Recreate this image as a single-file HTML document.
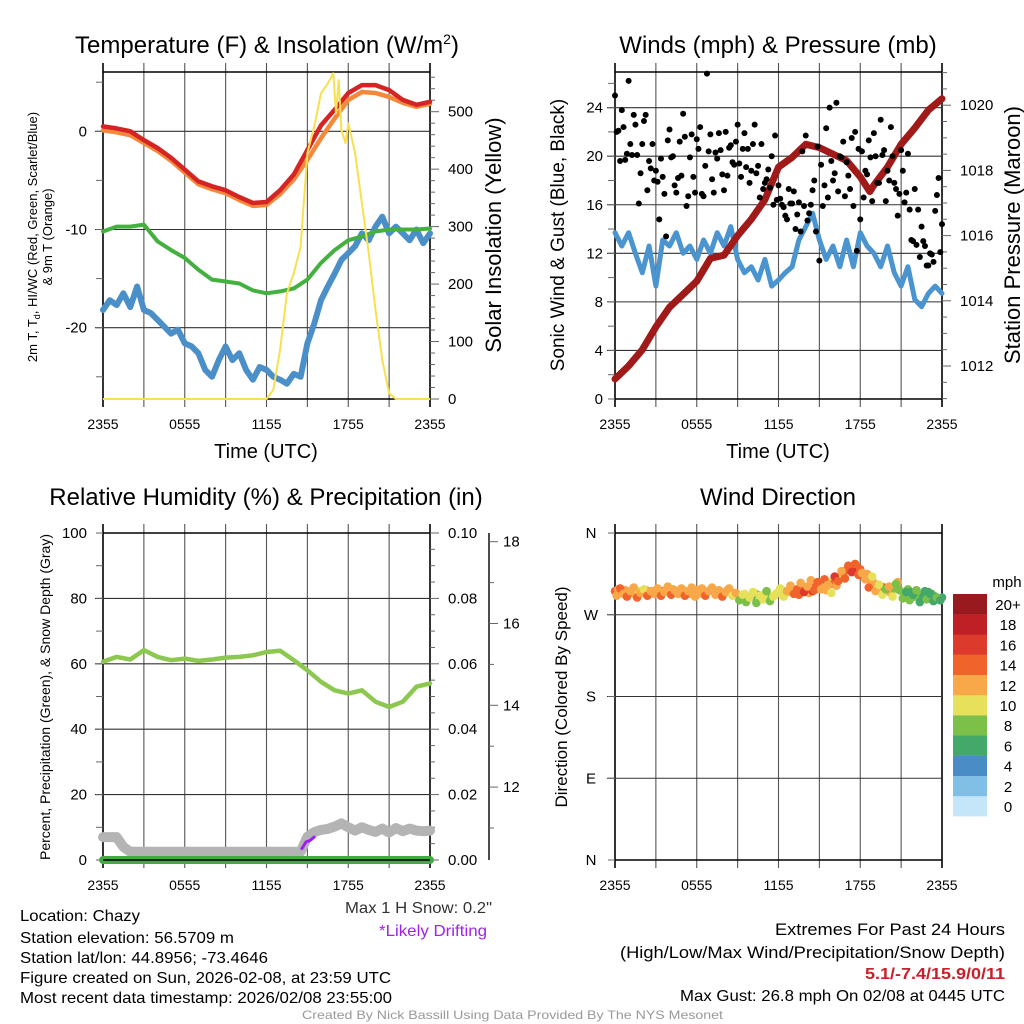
<!DOCTYPE html>
<html><head><meta charset="utf-8"><style>
html,body{margin:0;padding:0;background:#fff}
svg{display:block;font-family:"Liberation Sans",sans-serif}
</style></head><body>
<svg id="chart" width="1024" height="1024" viewBox="0 0 1024 1024" xmlns="http://www.w3.org/2000/svg">
<rect x="0" y="0" width="1024" height="1024" fill="#fff"/>
<text x="267" y="53" font-size="24" text-anchor="middle">Temperature (F) &amp; Insolation (W/m<tspan dy="-9" font-size="14">2</tspan><tspan dy="9">)</tspan></text>
<text x="778" y="53" font-size="24" text-anchor="middle">Winds (mph) &amp; Pressure (mb)</text>
<text x="266" y="505" font-size="24" text-anchor="middle">Relative Humidity (%) &amp; Precipitation (in)</text>
<text x="778" y="505" font-size="24" text-anchor="middle">Wind Direction</text>
<text x="266" y="458" font-size="20" text-anchor="middle">Time (UTC)</text>
<text x="778" y="458" font-size="20" text-anchor="middle">Time (UTC)</text>
<text transform="translate(37,237) rotate(-90)" font-size="13" text-anchor="middle">2m T, T<tspan dy="3" font-size="9">d</tspan><tspan dy="-3">, HI/WC (Red, Green, Scarlet/Blue)</tspan></text>
<text transform="translate(52,237) rotate(-90)" font-size="13" text-anchor="middle">&amp; 9m T (Orange)</text>
<text transform="translate(501,235) rotate(-90)" font-size="22" text-anchor="middle">Solar Insolation (Yellow)</text>
<text transform="translate(564,235) rotate(-90)" font-size="19" text-anchor="middle">Sonic Wind &amp; Gust (Blue, Black)</text>
<text transform="translate(1020,235) rotate(-90)" font-size="22" text-anchor="middle">Station Pressure (Maroon)</text>
<text transform="translate(50,697) rotate(-90)" font-size="14" text-anchor="middle">Percent, Precipitation (Green), &amp; Snow Depth (Gray)</text>
<text transform="translate(567,697) rotate(-90)" font-size="17" text-anchor="middle">Direction (Colored By Speed)</text>
<text x="1007" y="587" font-size="15" text-anchor="middle">mph</text>
<g font-size="16">
<text x="20" y="921" textLength="120" lengthAdjust="spacingAndGlyphs">Location: Chazy</text>
<text x="20" y="943" textLength="214" lengthAdjust="spacingAndGlyphs">Station elevation: 56.5709 m</text>
<text x="20" y="963" textLength="248" lengthAdjust="spacingAndGlyphs">Station lat/lon: 44.8956; -73.4646</text>
<text x="20" y="983" textLength="371" lengthAdjust="spacingAndGlyphs">Figure created on Sun, 2026-02-08, at 23:59 UTC</text>
<text x="20" y="1003" textLength="372" lengthAdjust="spacingAndGlyphs">Most recent data timestamp: 2026/02/08 23:55:00</text>
</g>
<text x="345" y="913" font-size="16" fill="#333" textLength="147" lengthAdjust="spacingAndGlyphs">Max 1 H Snow: 0.2"</text>
<text x="379" y="936" font-size="16" fill="#a020f0" textLength="108" lengthAdjust="spacingAndGlyphs">*Likely Drifting</text>
<text x="775" y="935" font-size="17" textLength="230" lengthAdjust="spacingAndGlyphs">Extremes For Past 24 Hours</text>
<text x="620" y="958" font-size="17" textLength="385" lengthAdjust="spacingAndGlyphs">(High/Low/Max Wind/Precipitation/Snow Depth)</text>
<text x="865" y="979" font-size="16" font-weight="bold" fill="#c8202a" textLength="140" lengthAdjust="spacingAndGlyphs">5.1/-7.4/15.9/0/11</text>
<text x="680" y="1001" font-size="16" textLength="325" lengthAdjust="spacingAndGlyphs">Max Gust: 26.8 mph On 02/08 at 0445 UTC</text>
<text x="302" y="1019" font-size="12" fill="#999" textLength="421" lengthAdjust="spacingAndGlyphs">Created By Nick Bassill Using Data Provided By The NYS Mesonet</text>
</svg>
<script>
// ---------- DATA ----------
const xTickLabels = ["2355","0555","1155","1755","2355"];
const hours = [0,1,2,3,4,5,6,7,8,9,10,11,12,13,14,15,16,17,18,19,20,21,22,23,24];
const tempRed = [0.5,0.3,0,-0.9,-1.7,-2.7,-3.9,-5.1,-5.6,-6,-6.7,-7.3,-7.2,-6,-4.4,-1.9,0.6,2.2,3.9,4.7,4.7,4.2,3.2,2.7,3];
const temp9m = [0.1,-0.1,-0.4,-1.2,-2.0,-3.0,-4.2,-5.4,-5.9,-6.3,-7.0,-7.6,-7.5,-6.4,-4.9,-2.9,-0.7,1.3,3.2,4.0,3.9,3.5,2.9,2.5,2.8];
const dewGreen = [-10.2,-9.7,-9.7,-9.5,-11.2,-12.1,-12.9,-14.1,-15.1,-15.3,-15.5,-16.2,-16.5,-16.3,-16,-15.1,-13.4,-12.1,-11.1,-10.7,-10.2,-10,-10,-10,-9.9];
const halfHours = [0,0.5,1,1.5,2,2.5,3,3.5,4,4.5,5,5.5,6,6.5,7,7.5,8,8.5,9,9.5,10,10.5,11,11.5,12,12.5,13,13.5,14,14.5,15,15.5,16,16.5,17,17.5,18,18.5,19,19.5,20,20.5,21,21.5,22,22.5,23,23.5,24];
const windChill = [-18.2,-17.2,-17.7,-16.5,-17.9,-15.8,-18.2,-18.5,-19.2,-19.9,-20.6,-20.2,-21.6,-21.9,-22.6,-24.3,-25,-23.3,-21.9,-23.3,-22.6,-24.3,-25.3,-24,-24.3,-25,-25.3,-25.7,-24.7,-25,-21.6,-19.6,-17.2,-15.8,-14.5,-13.1,-12.4,-11.7,-10.4,-11.1,-9.7,-8.7,-10.4,-9.7,-10.4,-11.1,-10,-11.4,-10.4];
const insolT = [0,12,12.5,13,13.5,14,14.5,15,15.5,16,16.5,16.9,17.1,17.3,17.5,17.8,18,18.5,19,19.5,20,20.5,21,21.5,24];
const insolV = [0,0,16,86,184,219,265,428,474,532,549,567,497,555,468,445,480,428,341,254,155,68,10,0,0];
const windSpeed = [13.7,12.6,13.7,12,10.4,12.6,9.3,13.1,12.6,13.7,12,12.6,11.5,13.1,12,13.7,12.6,14.2,11.5,10.4,10.9,9.8,11.5,9.3,9.8,10.4,10.9,13.1,14.2,15.3,13.1,11.5,12.6,10.9,13.1,10.9,13.7,12.6,12,10.9,12.6,10.4,9.3,10.9,8.2,7.6,8.7,9.3,8.7];
const presT = [0,1,2,3,4,5,6,7,8,9,10,11,12,13,14,15,16,17,18,18.7,19,20,21,22,23,24];
const presV = [1011.6,1012,1012.5,1013.2,1013.8,1014.2,1014.6,1015.3,1015.4,1016,1016.5,1017.1,1018.1,1018.4,1018.8,1018.7,1018.5,1018.3,1017.8,1017.35,1017.55,1018.1,1018.8,1019.3,1019.85,1020.2];
const gustA = [25.0,22.1,23.8,19.7,26.2,20.1,22.6,16.1,21.0,23.4,19.6,21.0,
18.8,14.8,18.3,13.4,22.2,20.0,17.0,21.2,23.5,15.9,19.9,18.3,
21.4,22.4,16.7,26.8,21.8,17.0,19.8,20.5,17.2,18.4,20.9,19.3,
22.6,18.3,21.9,20.6,18.8,22.6,19.2,21.0,17.8,18.9,20.0,21.7,
17.6,16.0,15.1,17.3,16.1,14.0,16.2,20.4,21.7,15.3,17.2,13.8,
11.4,15.9,22.3,24.0,18.0,24.4,20.0,21.2,19.5,17.3,15.9,12.2,
14.8,16.6,18.5,19.9,21.9,17.8,23.0,20.5,18.8,22.4,17.8,15.1,
20.5,16.2,20.2,13.1,17.3,15.6,14.2,12.6,11.0,11.9,15.5,18.2,14.4];
const gustB = [22.0,19.6,22.4,20.2,21.0,23.4,20.1,18.6,22.9,17.2,19.0,18.0,
17.9,19.8,16.9,21.3,19.9,17.6,18.2,18.4,21.6,16.7,21.8,17.0,
20.6,16.9,19.2,20.4,18.1,20.3,21.9,18.5,22.0,20.7,19.5,21.2,
19.4,20.6,19.1,17.8,21.0,18.6,16.6,17.3,18.1,17.4,16.0,16.4,
16.5,15.8,14.8,16.1,17.1,15.2,13.8,15.9,14.7,16.0,18.0,20.8,
19.3,17.6,16.6,19.6,18.6,17.1,19.9,16.7,18.4,21.5,22.0,20.6,
20.4,18.8,21.3,16.3,20.0,17.8,20.1,16.3,18.0,20.0,17.3,16.9,
18.8,17.0,15.6,13.0,12.7,11.7,13.0,11.0,12.0,11.3,16.8,12.1];
const rhValues = [60.6,62.1,61.3,64.2,62.1,61.1,61.6,60.9,61.3,61.9,62.1,62.6,63.6,64,61.1,58,54.5,51.9,50.9,51.9,48.4,46.8,48.4,53,54];
const snowT = [0,1,1.5,2,4,8,12,14,14.5,15,15.5,16,16.5,17,17.5,18,18.5,19,19.5,20,20.5,21,21.5,22,22.5,23,23.5,24];
const snowV = [7,7,4,2.5,2.5,2.5,2.5,2.5,2.5,7.1,8.5,9.2,9.5,10.2,11.2,10.0,9.0,10.0,9.2,8.6,9.6,8.4,9.8,8.8,9.6,9.0,8.8,9.0];
const driftT = [14.6,14.9,15.2,15.5];
const driftV = [3.5,5.5,6.0,7.0];
const precipValues = [0,0];
const dirValues = [296,298,294,297,293,295,292,296,294,297,295,296,
294,293,296,297,295,298,296,294,297,295,293,296,
297,296,294,295,298,296,293,295,294,297,295,292,
291,289,293,288,290,294,292,290,293,291,289,292,
294,297,293,296,299,297,292,301,300,294,296,303,
305,300,297,306,304,302,312,316,319,321,318,322,
320,312,315,308,305,298,302,300,296,294,299,306,
296,292,298,295,290,293,291,296,295,293,290,288,289];
const dirSpeeds = [14,13,15,12,13,14,12,11,13,14,12,13,
13,12,14,13,12,12,13,14,12,11,12,13,
12,13,12,12,11,13,12,12,14,12,13,12,
10,9,10,11,7,10,9,12,10,11,8,10,
12,9,10,14,10,11,15,13,14,12,16,15,
14,13,12,10,15,12,11,13,14,15,15,16,
14,15,12,13,12,10,11,15,13,12,9,12,
10,8,9,7,8,8,9,7,6,8,7,8,7];
const dirValuesB = [291,299,293,290,296,300,289,294,298,291,296,293,
299,291,295,301,292,297,293,299,291,296,300,290,
293,299,291,296,300,292,297,290,295,299,291,294,
286,292,284,289,295,283,291,287,296,285,290,294,
299,290,296,302,293,298,305,295,301,308,297,306,
298,309,303,294,312,307,318,310,324,317,326,314,
316,309,300,312,296,303,292,298,301,290,304,297,
288,295,286,292,297,284,290,287,293,285,289,286];
const dirSpeedsB = [13,14,12,15,13,12,14,13,11,14,13,12,
12,14,13,12,14,13,12,13,14,12,13,12,
13,12,14,13,12,12,13,14,12,13,11,13,
9,10,8,11,10,9,11,10,9,8,10,11,
11,10,13,12,15,14,12,16,13,12,15,14,
12,14,13,11,16,14,12,15,14,16,15,14,
13,12,14,11,12,10,11,9,12,10,8,9,
8,7,9,6,8,7,6,8,7,6,8,7];
const speedBinLabels = ["0","2","4","6","8","10","12","14","16","18","20+"];
const speedBinColors = ["#c4e6f8","#82bfe6","#4a8cc6","#44a86a","#7cc04a","#e6e05a","#f8a848","#f0642c","#dc3a2a","#bf2026","#981a1e"];

// ---------- HELPERS ----------
const svg = document.getElementById('chart');
const NS = 'http://www.w3.org/2000/svg';
function mk(tag, attrs, name, parent){
  const el = document.createElementNS(NS, tag);
  for (const k in attrs) el.setAttribute(k, attrs[k]);
  
  
  (parent || svg).appendChild(el);
  return el;
}
function txt(x,y,s,size,anchor,name,fill){
  const t = mk('text',{x:x,y:y,'font-size':size,'text-anchor':anchor,fill:fill||'#000'},name);
  t.textContent = s;
  return t;
}
function xScale(p){ return t => p.x0 + t*(p.x1-p.x0)/24; }
function linPath(xs, ys, fx, fy){
  return xs.map((t,i)=>(i?'L':'M')+fx(t).toFixed(1)+','+fy(ys[i]).toFixed(1)).join('');
}
function frame(p, prefix){
  const fx = xScale(p);
  for (let i=0;i<=8;i++){
    const x = fx(i*3);
    const edge = (i===0||i===8);
    mk('line',{x1:x,x2:x,y1:p.y0-9,y2:p.y1+8,stroke:edge?'#000':'#555','stroke-width':edge?1.6:1.1},prefix+'-vgrid');
  }
  xTickLabels.forEach((s,i)=>{ txt(fx(i*6), p.y1+30, s, 14, 'middle', prefix+'-x-tick-label'); });
  mk('line',{x1:p.x0,x2:p.x1,y1:p.y0,y2:p.y0,stroke:'#000','stroke-width':1.4},prefix+'-top-border');
  mk('line',{x1:p.x0,x2:p.x1,y1:p.y1,y2:p.y1,stroke:'#000','stroke-width':1.4},prefix+'-bottom-border');
}
function hgrid(p, yv, prefix){
  mk('line',{x1:p.x0-8,x2:p.x1,y1:yv,y2:yv,stroke:'#333','stroke-width':1.1},prefix+'-hgrid');
}
function tick(x,y,len,prefix){ mk('line',{x1:x,x2:x+len,y1:y,y2:y,stroke:'#666','stroke-width':1},prefix+'-tick'); }

// ---------- PANEL 1 : temperature ----------
const P1 = {x0:103,x1:430,y0:72,y1:399};
const fx1 = xScale(P1);
const yTemp = v => 131.3 - v*9.82;
const yIns = v => 399 - v*0.5746;
frame(P1,'temp');
[0,-10,-20].forEach(v=>{ hgrid(P1,yTemp(v),'temp'); txt(P1.x0-16,yTemp(v)+5,String(v),15,'end','temp-y-tick-label'); });
for (let v=5; v>=-25; v-=5) tick(P1.x0-7,yTemp(v),7,'temp-left');
for (let v=0; v<=560; v+=20) tick(P1.x1,yIns(v),v%100===0?9:5,'insolation-right');
for (let v=0; v<=500; v+=100) txt(P1.x1+18,yIns(v)+5,String(v),15,'start','insolation-y-tick-label');
mk('path',{d:linPath(halfHours,windChill,fx1,yTemp),fill:'none',stroke:'#4a8fc8','stroke-width':6,'stroke-linejoin':'round','stroke-linecap':'round'},'wind-chill-line');
mk('path',{d:linPath(hours,dewGreen,fx1,yTemp),fill:'none',stroke:'#44b040','stroke-width':4,'stroke-linejoin':'round','stroke-linecap':'round'},'dewpoint-line');
mk('path',{d:linPath(hours,temp9m,fx1,yTemp),fill:'none',stroke:'#f5883a','stroke-width':4.5,'stroke-linejoin':'round','stroke-linecap':'round'},'temp-9m-line');
mk('path',{d:linPath(hours,tempRed,fx1,yTemp),fill:'none',stroke:'#d42424','stroke-width':4.5,'stroke-linejoin':'round','stroke-linecap':'round'},'temp-2m-line');
mk('path',{d:linPath(insolT,insolV,fx1,yIns),fill:'none',stroke:'#f8e050','stroke-width':2,'stroke-linejoin':'round'},'insolation-line');

// ---------- PANEL 2 : winds ----------
const P2 = {x0:615,x1:942,y0:72,y1:399};
const fx2 = xScale(P2);
const yWind = v => 399 - v*12.14;
const yPres = v => 366 - (v-1012)*32.6;
frame(P2,'wind');
for (let v=4; v<=24; v+=4) hgrid(P2,yWind(v),'wind');
for (let v=0; v<=24; v+=4) txt(P2.x0-12,yWind(v)+5,String(v),15,'end','wind-y-tick-label');
for (let v=0; v<=26; v+=2) tick(P2.x0-7,yWind(v),7,'wind-left');
for (let v=1011; v<=1021; v+=0.5) tick(P2.x1,yPres(v),v%2===0?9:5,'pressure-right');
for (let v=1012; v<=1020; v+=2) txt(P2.x1+18,yPres(v)+5,String(v),15,'start','pressure-y-tick-label');
mk('path',{d:linPath(halfHours,windSpeed,fx2,yWind),fill:'none',stroke:'#4a94d0','stroke-width':5,'stroke-linejoin':'round','stroke-linecap':'round'},'wind-speed-line');
mk('path',{d:linPath(presT,presV,fx2,yPres),fill:'none',stroke:'#a01a1a','stroke-width':7,'stroke-linejoin':'round','stroke-linecap':'round'},'pressure-line');
gustA.forEach((v,i)=>{ mk('circle',{cx:fx2(i*0.25),cy:yWind(v),r:3,fill:'#000'},'gust-point'); });
gustB.forEach((v,i)=>{ mk('circle',{cx:fx2(i*0.25+0.125),cy:yWind(v),r:3,fill:'#000'},'gust-point'); });

// ---------- PANEL 3 : humidity ----------
const P3 = {x0:103,x1:430,y0:533,y1:860};
const fx3 = xScale(P3);
const yRH = v => 860 - v*3.27;
const yPrecip = v => 860 - v*3270;
const ySnowAx = v => 541.7 + (18-v)*40.9;
frame(P3,'humidity');
for (let v=20; v<=80; v+=20) hgrid(P3,yRH(v),'humidity');
for (let v=0; v<=100; v+=20) txt(P3.x0-16,yRH(v)+5,String(v),15,'end','humidity-y-tick-label');
for (let v=0; v<=100; v+=10) tick(P3.x0-7,yRH(v),7,'humidity-left');
for (let v=0; v<=0.1001; v+=0.005) tick(P3.x1,yPrecip(v),Math.round(v*1000)%20===0?9:5,'precip-right');
for (let v=0; v<=0.1001; v+=0.02) txt(P3.x1+18,yPrecip(v)+5,v.toFixed(2),15,'start','precip-y-tick-label');
mk('line',{x1:489,x2:489,y1:533,y2:860,stroke:'#000','stroke-width':1.4},'snow-depth-axis');
for (let v=11; v<=18; v+=1) tick(489,ySnowAx(v),v%2===0?9:5,'snow-axis');
for (let v=12; v<=18; v+=2) txt(503,ySnowAx(v)+5,String(v),15,'start','snow-y-tick-label');
mk('path',{d:linPath(snowT,snowV,fx3,yRH),fill:'none',stroke:'#b4b4b4','stroke-width':10,'stroke-linejoin':'round','stroke-linecap':'round'},'snow-depth-line');
mk('path',{d:linPath([0,24],precipValues,fx3,yPrecip),fill:'none',stroke:'#44aa44','stroke-width':8,'stroke-linecap':'round'},'precip-line');
mk('line',{x1:P3.x0,x2:P3.x1,y1:P3.y1,y2:P3.y1,stroke:'#000','stroke-width':1.4},'humidity-baseline');
mk('path',{d:linPath(driftT,driftV,fx3,yRH),fill:'none',stroke:'#a020f0','stroke-width':3,'stroke-linecap':'round'},'drifting-snow-line');
mk('path',{d:linPath(hours,rhValues,fx3,yRH),fill:'none',stroke:'#8cc850','stroke-width':4.5,'stroke-linejoin':'round','stroke-linecap':'round'},'rh-line');

// ---------- PANEL 4 : wind direction ----------
const P4 = {x0:615,x1:942,y0:533,y1:860};
const fx4 = xScale(P4);
const yDir = v => 860 - v/360*327;
frame(P4,'direction');
[90,180,270].forEach(v=>hgrid(P4,yDir(v),'direction'));
const dirLabels = ["N","E","S","W","N"];
dirLabels.forEach((s,i)=>{ txt(P4.x0-24,yDir(i*90)+5,s,15,'middle','direction-y-tick-label'); tick(P4.x0-7,yDir(i*90),7,'direction-left'); });
dirValues.forEach((v,i)=>{
  const bin = Math.min(10, Math.floor(dirSpeeds[i]/2));
  mk('circle',{cx:fx4(i*0.25),cy:yDir(v),r:4.3,fill:speedBinColors[bin]},'direction-point');
});
dirValuesB.forEach((v,i)=>{
  const bin = Math.min(10, Math.floor(dirSpeedsB[i]/2));
  mk('circle',{cx:fx4(i*0.25+0.125),cy:yDir(v),r:4.3,fill:speedBinColors[bin]},'direction-point');
});
// colorbar
speedBinLabels.forEach((s,i)=>{
  const k = speedBinLabels.length-1-i;
  const y = 594 + k*20.2;
  mk('rect',{x:953,y:y,width:34,height:20.4,fill:speedBinColors[i]},'colorbar-box');
  txt(1008,y+16,s,15,'middle','colorbar-label');
});
</script>
</body></html>
